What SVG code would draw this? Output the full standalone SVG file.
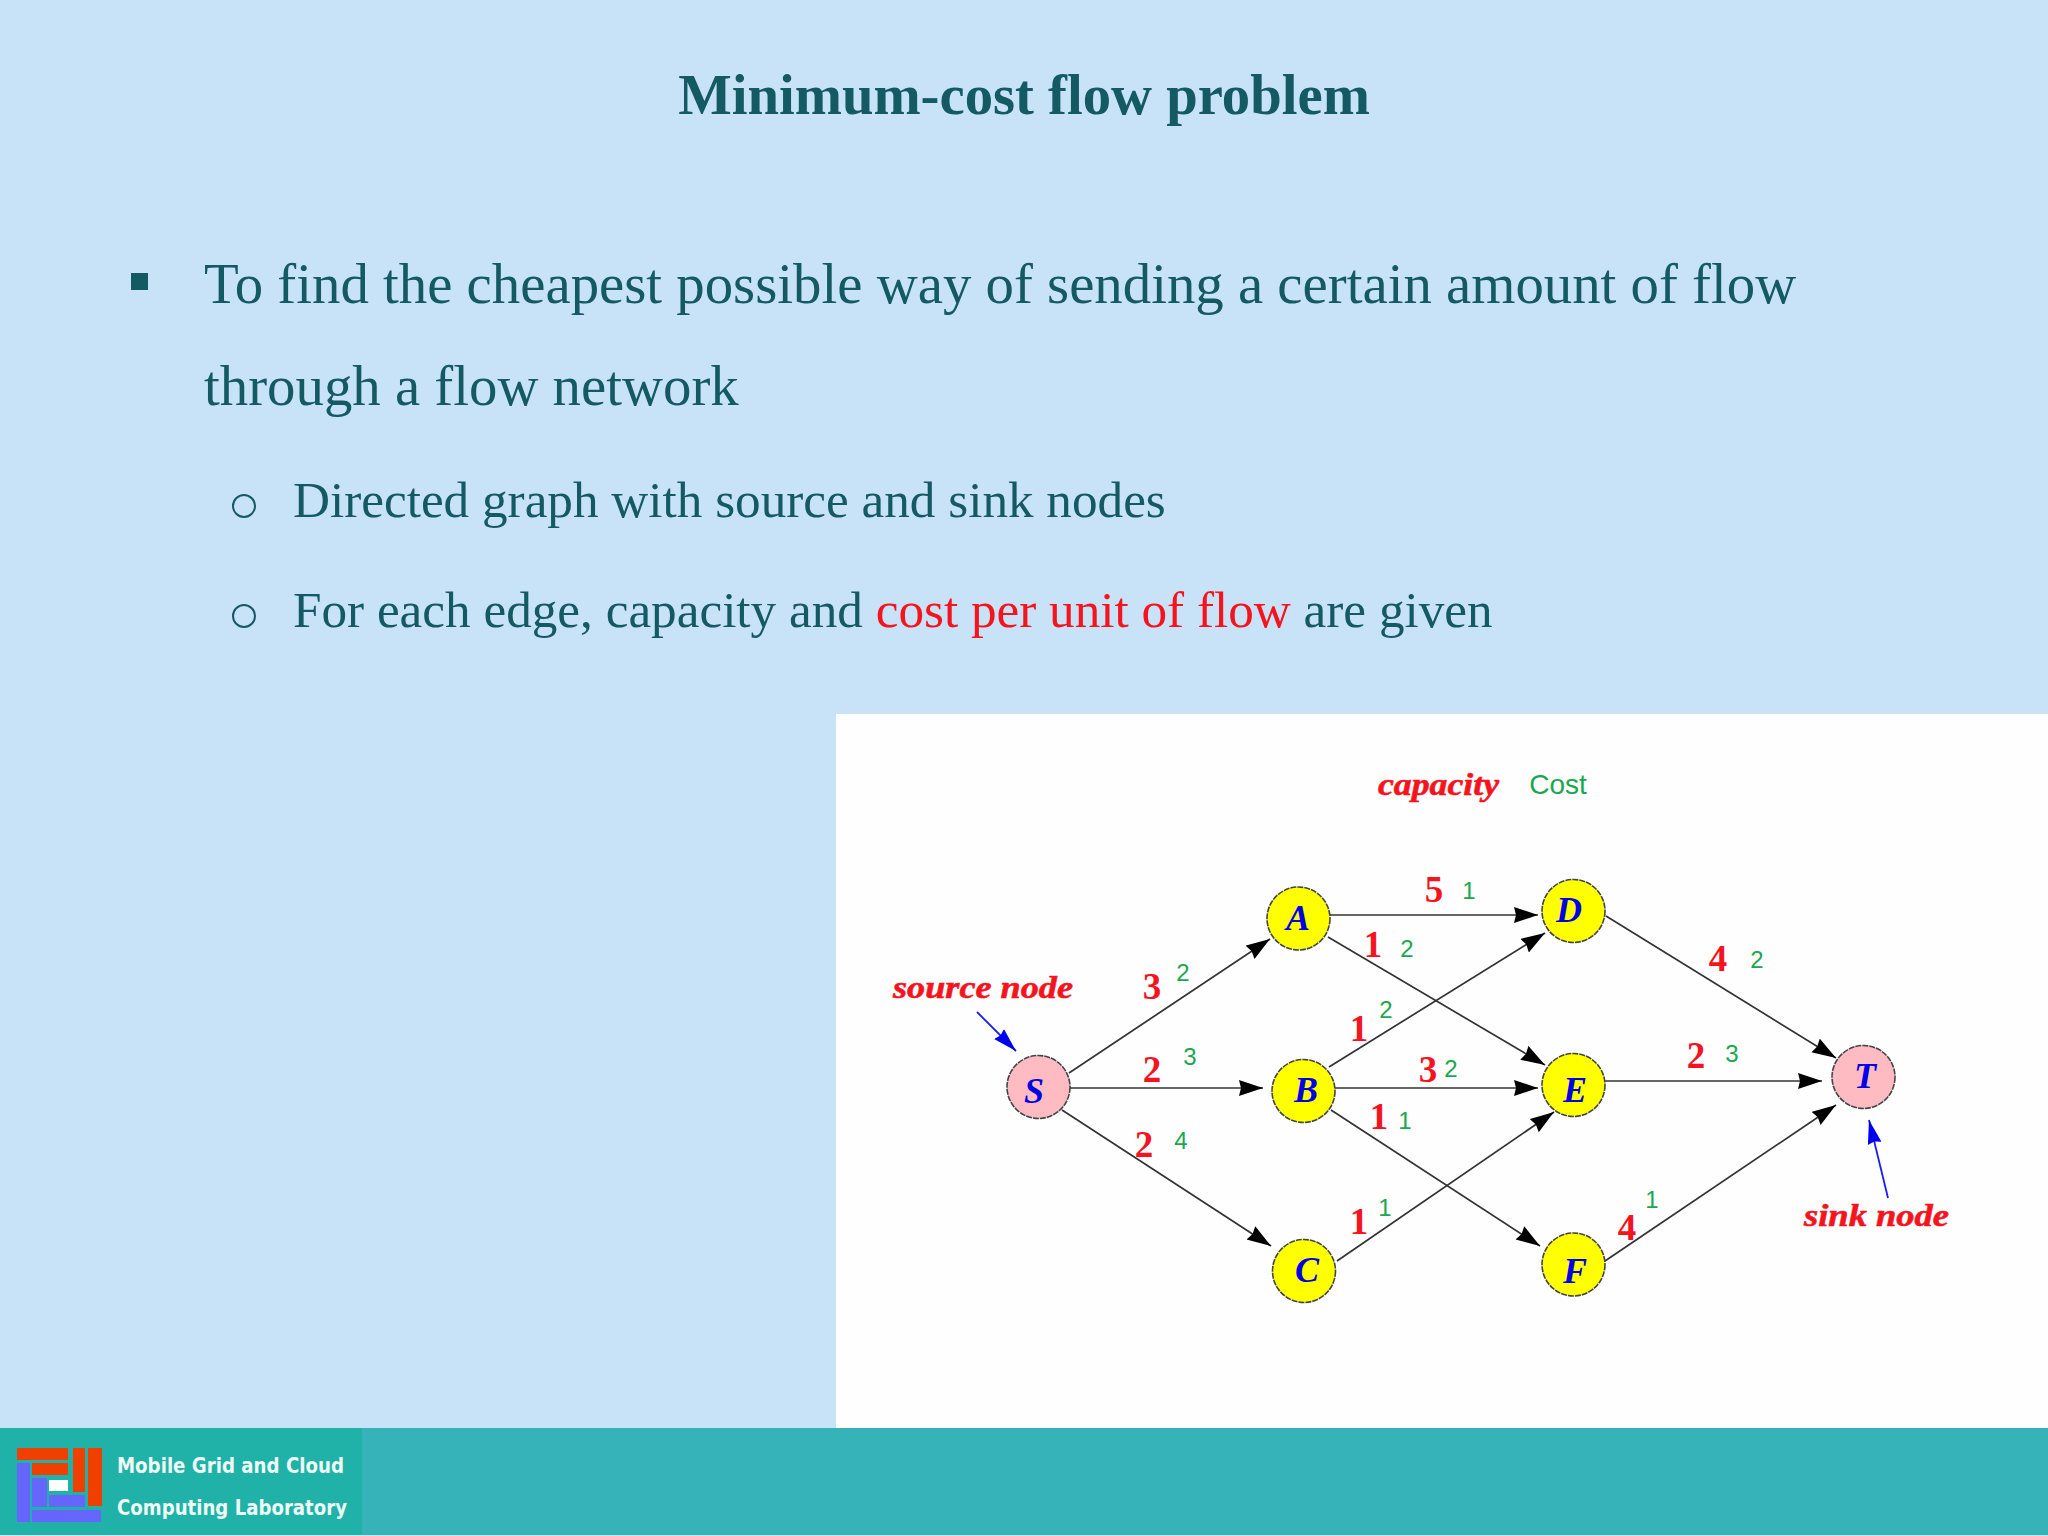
<svg xmlns="http://www.w3.org/2000/svg" width="2048" height="1536" viewBox="0 0 2048 1536">
<style>
.ser{font-family:"Liberation Serif","Times New Roman",serif}
.h{fill:#135a62}
.body{font-family:"Liberation Serif",serif;fill:#135a62}
.edge{stroke:#333;stroke-width:1.7;fill:none;marker-end:url(#ah)}
.edgeb{stroke:#1c1cf0;stroke-width:1.8;fill:none;marker-end:url(#ab)}
.node{stroke:#444;stroke-width:1.6;stroke-dasharray:6 1}
.y{fill:#ffff00}
.p{fill:#ffbbc2}
.l{font-family:"Liberation Serif",serif;font-weight:bold;font-style:italic;font-size:36px;fill:#0000e6;text-anchor:middle}
.r{font-family:"Liberation Serif",serif;font-weight:bold;font-size:37px;fill:#f5141e;text-anchor:middle}
.g{font-family:"Liberation Sans",sans-serif;font-size:24px;fill:#1aa84e;text-anchor:middle}
.ri{font-family:"Liberation Serif",serif;font-weight:bold;font-style:italic;font-size:32px;fill:#f5141e;stroke:#f5141e;stroke-width:.6}
.ft{font-family:"DejaVu Sans",sans-serif;font-weight:bold;font-size:21px;fill:#eefaf6}
.bo{fill:none;stroke:#135a62;stroke-width:2}
</style>
<defs>
<marker id="ah" markerUnits="userSpaceOnUse" markerWidth="26" markerHeight="20" refX="24" refY="8" orient="auto"><path d="M0 0L24 8L0 16L2 8Z" fill="#000"/></marker>
<marker id="ab" markerUnits="userSpaceOnUse" markerWidth="26" markerHeight="20" refX="24" refY="8" orient="auto"><path d="M0 1L24 8L0 15L2 8Z" fill="#0000f0"/></marker>
</defs>
<rect width="2048" height="1536" fill="#c8e2f8"/>
<text class="ser h" x="1024" y="114" font-size="56.7" font-weight="bold" text-anchor="middle">Minimum-cost flow problem</text>
<rect x="131" y="273" width="17" height="17" fill="#135a62"/>
<text class="body" x="204" y="303" font-size="56.8">To find the cheapest possible way of sending a certain amount of flow</text>
<text class="body" x="204" y="405" font-size="56.8">through a flow network</text>
<circle class="bo" cx="244" cy="506" r="11"/>
<text class="body" x="293" y="517" font-size="51.2">Directed graph with source and sink nodes</text>
<circle class="bo" cx="244" cy="616" r="11"/>
<text class="body" x="293" y="627" font-size="51.2">For each edge, capacity and <tspan fill="#f5141e">cost per unit of flow</tspan> are given</text>
<rect x="836" y="714" width="1212" height="714" fill="#fefefe"/>
<g id="connectors">
<line class="edge" x1="1069" y1="1073" x2="1270" y2="939"/>
<line class="edge" x1="1070" y1="1088" x2="1263" y2="1088"/>
<line class="edge" x1="1062" y1="1110" x2="1271" y2="1246"/>
<line class="edge" x1="1330" y1="915" x2="1538" y2="915"/>
<line class="edge" x1="1328" y1="937" x2="1545" y2="1065"/>
<line class="edge" x1="1329" y1="1067" x2="1545" y2="933"/>
<line class="edge" x1="1335" y1="1088" x2="1538" y2="1088"/>
<line class="edge" x1="1331" y1="1110" x2="1540" y2="1246"/>
<line class="edge" x1="1337" y1="1261" x2="1554" y2="1112"/>
<line class="edge" x1="1606" y1="916" x2="1836" y2="1058"/>
<line class="edge" x1="1605" y1="1081" x2="1822" y2="1081"/>
<line class="edge" x1="1605" y1="1261" x2="1836" y2="1105"/>
<line class="edgeb" x1="977" y1="1012" x2="1016" y2="1051"/>
<line class="edgeb" x1="1888" y1="1198" x2="1869" y2="1120"/>
</g>
<g id="node-S"><circle class="node p" cx="1038.5" cy="1087" r="31.5"/><text class="l" x="1034" y="1103">S</text></g>
<g id="node-A"><circle class="node y" cx="1298.5" cy="918.5" r="31.5"/><text class="l" x="1298" y="930">A</text></g>
<g id="node-B"><circle class="node y" cx="1303.5" cy="1091" r="31.5"/><text class="l" x="1306" y="1102">B</text></g>
<g id="node-C"><circle class="node y" cx="1304" cy="1271" r="31.5"/><text class="l" x="1307" y="1282">C</text></g>
<g id="node-D"><circle class="node y" cx="1573.5" cy="911" r="31.5"/><text class="l" x="1569" y="922">D</text></g>
<g id="node-E"><circle class="node y" cx="1573.5" cy="1085" r="31.5"/><text class="l" x="1575" y="1102">E</text></g>
<g id="node-F"><circle class="node y" cx="1573.5" cy="1264.5" r="31.5"/><text class="l" x="1575" y="1283">F</text></g>
<g id="node-T"><circle class="node p" cx="1863.5" cy="1077" r="31.5"/><text class="l" x="1865" y="1088">T</text></g>
<g id="edge-labels">
<text class="r" x="1152" y="999">3</text><text class="g" x="1183" y="981">2</text>
<text class="r" x="1152" y="1082">2</text><text class="g" x="1190" y="1065">3</text>
<text class="r" x="1144" y="1157">2</text><text class="g" x="1181" y="1149">4</text>
<text class="r" x="1434" y="902">5</text><text class="g" x="1469" y="899">1</text>
<text class="r" x="1373" y="957">1</text><text class="g" x="1407" y="957">2</text>
<text class="r" x="1359" y="1041">1</text><text class="g" x="1386" y="1018">2</text>
<text class="r" x="1428" y="1082">3</text><text class="g" x="1451" y="1077">2</text>
<text class="r" x="1379" y="1129">1</text><text class="g" x="1405" y="1129">1</text>
<text class="r" x="1359" y="1234">1</text><text class="g" x="1385" y="1216">1</text>
<text class="r" x="1627" y="1240">4</text><text class="g" x="1652" y="1208">1</text>
<text class="r" x="1718" y="971">4</text><text class="g" x="1757" y="968">2</text>
<text class="r" x="1696" y="1068">2</text><text class="g" x="1732" y="1062">3</text>
</g>
<text class="ri" x="893" y="998" textLength="180" lengthAdjust="spacingAndGlyphs">source node</text>
<text class="ri" x="1378" y="795" textLength="121" lengthAdjust="spacingAndGlyphs">capacity</text>
<text class="g" x="1558" y="794" style="font-size:28px">Cost</text>
<text class="ri" x="1804" y="1226" textLength="145" lengthAdjust="spacingAndGlyphs">sink node</text>
<rect x="0" y="1428" width="2048" height="107" fill="#36b3b8"/>
<rect x="0" y="1428" width="362" height="107" fill="#20b2a8"/>
<g id="logo">
<g fill="#f04000"><rect x="17" y="1448" width="51" height="12"/><rect x="32" y="1463" width="36" height="12"/><rect x="73" y="1448" width="12" height="44"/><rect x="88" y="1448" width="14" height="58"/></g>
<g fill="#6666ff"><rect x="17" y="1463" width="13" height="59"/><rect x="32" y="1478" width="15" height="29"/><rect x="49" y="1495" width="36" height="12"/><rect x="32" y="1510" width="69" height="12"/></g>
<rect x="49" y="1480" width="19" height="11" fill="#fff"/>
</g>
<text class="ft" x="117" y="1473" textLength="227" lengthAdjust="spacingAndGlyphs">Mobile Grid and Cloud</text>
<text class="ft" x="117" y="1515" textLength="230" lengthAdjust="spacingAndGlyphs">Computing Laboratory</text>
</svg>
